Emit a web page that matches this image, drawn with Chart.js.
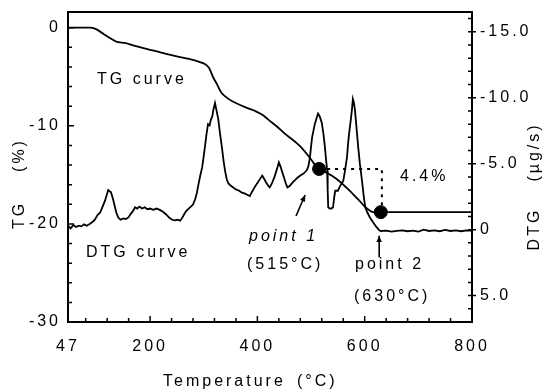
<!DOCTYPE html>
<html>
<head>
<meta charset="utf-8">
<script src="https://cdn.jsdelivr.net/npm/chart.js@4/dist/chart.umd.min.js"></script>
<style>
  html, body { margin: 0; padding: 0; background: #fff; }
  #wrap { width: 544px; height: 392px; position: relative; }
</style>
</head>
<body>
<div id="wrap"><canvas id="tga"></canvas></div>
<script>
// TG curve: temperature (°C) -> mass change (%)
const tgTemps = [47, 88, 97, 107, 116, 125, 138, 153, 172, 200, 228, 256, 274, 293, 302, 310, 317, 325,
    332, 341, 355, 377, 396, 410, 423, 437, 451, 464, 479, 494, 505, 515, 526, 539, 554, 567, 578,
    587, 597, 606, 615, 630, 700, 800];
const tgValues = [0, 0, -0.1, -0.4, -0.75, -1.05, -1.45, -1.55, -1.85, -2.25, -2.65, -3.0, -3.2, -3.5, -3.7, -4.1, -5.0, -5.8,
    -6.55, -7.05, -7.55, -8.1, -8.5, -8.9, -9.5, -10.1, -10.8, -11.35, -12.05, -13.0, -13.8, -14.4, -14.7, -15.1, -15.7, -16.35, -16.95,
    -17.45, -18.05, -18.5, -18.8, -18.8, -18.8, -18.8];

// DTG curve: temperature (°C) -> rate (µg/s), negative = mass loss (drawn upward)
const dtgTemps = [47, 52, 57, 62, 67, 72, 77, 82, 88, 93, 97, 102, 107, 110, 113, 116, 119, 122, 125, 127,
    131, 134, 137, 141, 145, 150, 155, 160, 164, 168, 172, 176, 180, 185, 190, 195, 200, 206, 212, 218,
    224, 230, 236, 241, 246, 251, 256, 260, 264, 268, 272, 276, 280, 284, 287, 290, 294, 297, 300, 302,
    305, 308, 311, 313, 316, 318, 321, 324, 327, 330, 334, 337, 340, 343, 346, 350, 355, 360, 366, 371,
    376, 381, 386, 389, 392, 396, 401, 405, 409, 412, 416, 420, 423, 427, 431, 435, 438, 440, 443, 446,
    450, 453, 456, 460, 465, 470, 475, 480, 486, 492, 495, 498, 500, 502, 505, 507, 510, 513, 516, 520,
    523, 526, 528, 530, 531, 532, 535, 538, 541, 543, 545, 548, 550, 554, 557, 560, 563, 567, 569, 571,
    574, 576, 578, 580, 582, 585, 588, 591, 595, 598, 601, 605, 610, 615, 620, 623, 627, 630, 640, 650,
    660, 670, 680, 690, 700, 710, 720, 730, 740, 750, 760, 770, 780, 790, 800];
const dtgValues = [-0.3, -0.1, -0.35, -0.2, -0.3, -0.25, -0.4, -0.3, -0.45, -0.6, -0.75, -1.1, -1.3, -1.6, -1.9, -2.2, -2.6, -3.0, -2.9, -2.85,
    -2.3, -1.8, -1.3, -0.9, -0.75, -0.85, -0.8, -0.95, -1.2, -1.4, -1.7, -1.6, -1.75, -1.6, -1.7, -1.55, -1.6, -1.5, -1.6, -1.5,
    -1.35, -1.15, -0.9, -0.75, -0.7, -0.75, -0.68, -0.9, -1.2, -1.45, -1.6, -1.75, -1.9, -2.3, -2.75, -3.4, -4.2, -4.7, -5.6, -6.2,
    -7.2, -8.0, -7.9, -8.3, -8.6, -9.1, -9.6, -9.0, -8.4, -7.4, -6.2, -5.2, -4.4, -3.8, -3.5, -3.35, -3.2, -3.05, -2.95, -2.8,
    -2.75, -2.65, -2.55, -2.8, -3.0, -3.3, -3.6, -3.85, -4.1, -3.9, -3.6, -3.35, -3.2, -3.5, -3.9, -4.4, -4.8, -5.1, -4.8, -4.4,
    -3.9, -3.5, -3.2, -3.3, -3.55, -3.75, -3.95, -4.1, -4.25, -4.5, -4.8, -5.5, -6.3, -7.0, -7.6, -8.0, -8.4, -8.8, -8.6, -8.1,
    -7.3, -6.2, -5.3, -4.5, -3.0, -1.7, -1.6, -1.6, -1.7, -2.4, -2.95, -2.95, -2.95, -3.3, -3.5, -3.7, -4.4, -5.5, -6.5, -7.3,
    -8.3, -9.0, -9.9, -9.6, -9.0, -7.6, -6.2, -5.0, -3.7, -2.6, -1.7, -1.3, -0.9, -0.6, -0.3, -0.15, 0.05, 0.1, 0.08, 0.15,
    0.1, 0.05, 0.12, 0.08, 0.15, 0.0, 0.1, 0.05, 0.12, 0.02, 0.1, 0.06, 0.12, 0.05, 0.08];

// marked points 1 and 2 and the dotted 4.4 % bracket
const pointTemps = [515, 630];
const pointTG = [-14.4, -18.8];
const bracketTemps = [515, 632, 632];
const bracketTG = [-14.4, -14.4, -18.8];

// arrows (tail -> head), in temperature / TG units
const arrowTemps = [[472, 489], [627, 627]];
const arrowTG = [[-19.2, -17.05], [-23.4, -21.2]];

// axis labels
const xLabels = [47, 200, 400, 600, 800];
const tgLabels = [0, -10, -20, -30];
const dtgLabels = [-15, -10, -5, 0, 5];

const FONT = "'Liberation Sans', Arial, sans-serif";

function toPoints(xs, ys) {
    return xs.map((x, i) => ({x: x, y: ys[i]}));
}

function setTicks(values) {
    return (scale) => {
        scale.ticks = values.map((v) => ({value: v}));
    };
}

// fixed axis sizes, no extra label padding
function fitSize(prop, size) {
    return (s) => {
        s[prop] = size;
        s.paddingTop = 0;
        s.paddingBottom = 0;
        s.paddingLeft = 0;
        s.paddingRight = 0;
    };
}

const xTicks = [47];
for (let t = 80; t <= 800; t += 40) xTicks.push(t);
const tgTicks = [];
for (let v = -30; v <= 0; v += 2) tgTicks.push(v);
const dtgTicks = [];
for (let v = -16; v <= 7; v += 1) dtgTicks.push(v);

const decor = {
    id: 'decor',
    beforeDraw(chart) {
        chart.ctx.letterSpacing = '3px';
    },
    afterDraw(chart) {
        const {ctx, chartArea: a, scales} = chart;
        const sx = scales.x, sTG = scales.yTG, sDTG = scales.yDTG;
        ctx.save();
        ctx.strokeStyle = '#000';
        ctx.fillStyle = '#000';

        // frame
        ctx.lineWidth = 2;
        ctx.strokeRect(a.left, a.top, a.right - a.left, a.bottom - a.top);

        // inward tick marks
        ctx.lineWidth = 1.5;
        ctx.beginPath();
        sx.ticks.forEach((t) => {
            const p = sx.getPixelForValue(t.value);
            const len = t.label ? 6 : 4;
            ctx.moveTo(p, a.bottom);
            ctx.lineTo(p, a.bottom - len);
        });
        sTG.ticks.forEach((t) => {
            const p = sTG.getPixelForValue(t.value);
            const len = t.label ? 6 : 4;
            ctx.moveTo(a.left, p);
            ctx.lineTo(a.left + len, p);
        });
        sDTG.ticks.forEach((t) => {
            const p = sDTG.getPixelForValue(t.value);
            ctx.moveTo(a.right - 4, p);
            ctx.lineTo(t.label ? a.right + 4 : a.right, p);
        });
        ctx.stroke();

        // arrows
        ctx.lineWidth = 1.6;
        arrowTemps.forEach((tx, i) => {
            const x1 = sx.getPixelForValue(tx[0]), y1 = sTG.getPixelForValue(arrowTG[i][0]);
            const x2 = sx.getPixelForValue(tx[1]), y2 = sTG.getPixelForValue(arrowTG[i][1]);
            const ang = Math.atan2(y2 - y1, x2 - x1);
            ctx.beginPath();
            ctx.moveTo(x1, y1);
            ctx.lineTo(x2, y2);
            ctx.stroke();
            ctx.beginPath();
            ctx.moveTo(x2, y2);
            ctx.lineTo(x2 - 7 * Math.cos(ang - 0.4), y2 - 7 * Math.sin(ang - 0.4));
            ctx.lineTo(x2 - 7 * Math.cos(ang + 0.4), y2 - 7 * Math.sin(ang + 0.4));
            ctx.closePath();
            ctx.fill();
        });

        // annotations
        ctx.letterSpacing = '3px';
        ctx.textBaseline = 'middle';
        ctx.textAlign = 'left';
        ctx.font = '16px ' + FONT;
        ctx.fillText('TG curve', 97, 80);
        ctx.fillText('DTG curve', 86, 253);
        ctx.fillText('(515°C)', 247, 265);
        ctx.fillText('point 2', 355, 265);
        ctx.fillText('(630°C)', 354, 297);
        ctx.fillText('4.4%', 400, 177);
        ctx.fillText('Temperature', 163, 382);
        ctx.fillText('(°C)', 297, 382);
        ctx.font = 'italic 16px ' + FONT;
        ctx.fillText('point 1', 249, 237);

        // vertical axis titles
        ctx.font = '16px ' + FONT;
        ctx.textAlign = 'center';
        const vtext = (txt, x, y) => {
            ctx.save();
            ctx.translate(x, y);
            ctx.rotate(-Math.PI / 2);
            ctx.fillText(txt, 0, 0);
            ctx.restore();
        };
        vtext('TG', 20, 215);
        vtext('(%)', 20, 155);
        vtext('DTG', 535, 229);
        vtext('(µg/s)', 535, 152);
        ctx.restore();
    }
};

new Chart(document.getElementById('tga'), {
    type: 'line',
    data: {
        datasets: [{
            label: 'DTG',
            data: toPoints(dtgTemps, dtgValues),
            yAxisID: 'yDTG',
            borderColor: '#000',
            borderWidth: 1.8,
            pointRadius: 0,
            tension: 0
        }, {
            label: 'TG',
            data: toPoints(tgTemps, tgValues),
            yAxisID: 'yTG',
            borderColor: '#000',
            borderWidth: 1.8,
            pointRadius: 0,
            tension: 0.2
        }, {
            label: 'bracket',
            data: toPoints(bracketTemps, bracketTG),
            yAxisID: 'yTG',
            borderColor: '#000',
            borderWidth: 2,
            borderDash: [3, 5],
            pointRadius: 0,
            tension: 0
        }, {
            label: 'points',
            data: toPoints(pointTemps, pointTG),
            yAxisID: 'yTG',
            showLine: false,
            pointRadius: 6.5,
            pointBackgroundColor: '#000',
            pointBorderColor: '#000'
        }]
    },
    options: {
        responsive: true,
        maintainAspectRatio: false,
        animation: false,
        layout: {padding: {top: 12, left: 0, right: 0, bottom: 0}},
        plugins: {legend: {display: false}, tooltip: {enabled: false}},
        scales: {
            x: {
                type: 'linear',
                min: 47,
                max: 800,
                afterBuildTicks: setTicks(xTicks),
                afterFit: fitSize('height', 70),
                grid: {display: false, drawTicks: false},
                border: {display: false},
                ticks: {
                    autoSkip: false,
                    maxRotation: 0,
                    padding: 15,
                    color: '#000',
                    font: {family: FONT, size: 16},
                    callback: (v) => xLabels.includes(v) ? String(v) : ''
                }
            },
            yTG: {
                type: 'linear',
                position: 'left',
                min: -30,
                max: 1.6,
                afterBuildTicks: setTicks(tgTicks),
                afterFit: fitSize('width', 68),
                grid: {display: false, drawTicks: false},
                border: {display: false},
                ticks: {
                    autoSkip: false,
                    padding: 7,
                    color: '#000',
                    font: {family: FONT, size: 16},
                    callback: (v) => tgLabels.includes(v) ? String(v) : ''
                }
            },
            yDTG: {
                type: 'linear',
                position: 'right',
                reverse: true,
                min: -16.5,
                max: 7,
                afterBuildTicks: setTicks(dtgTicks),
                afterFit: fitSize('width', 72),
                grid: {display: false, drawTicks: false},
                border: {display: false},
                ticks: {
                    autoSkip: false,
                    padding: 8,
                    color: '#000',
                    font: {family: FONT, size: 16},
                    callback: (v) => dtgLabels.includes(v) ? (v === 0 ? '0' : v.toFixed(1)) : ''
                }
            }
        }
    },
    plugins: [decor]
});
</script>
</body>
</html>
